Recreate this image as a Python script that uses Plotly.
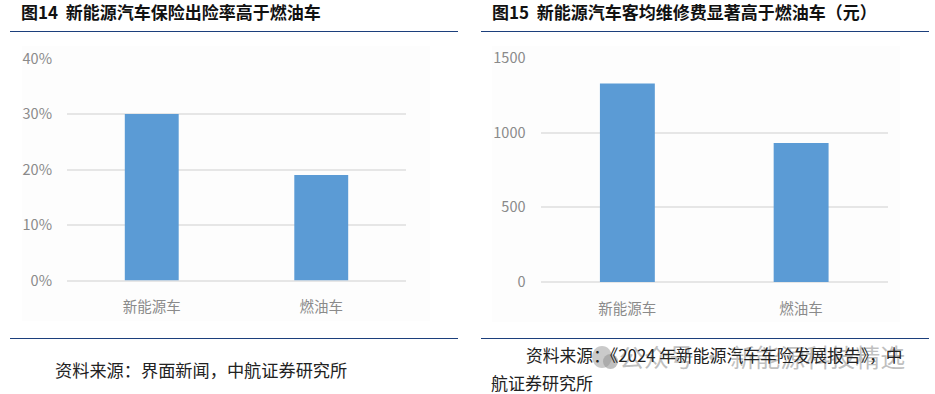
import plotly.graph_objects as go

W, H = 935, 394

categories = ["新能源车", "燃油车"]
loss_ratio = [30, 19]
repair_cost = [1330, 930]
ticks_left = [0, 10, 20, 30, 40]
ticks_left_labels = ["0%", "10%", "20%", "30%", "40%"]
ticks_right = [0, 500, 1000, 1500]
ticks_right_labels = ["0", "500", "1000", "1500"]

BAR = "#5b9bd5"
GRID = "#e6e6e6"
TICK = "#8a8a8a"
RULE = "#1c3f7c"
SANS = "'Noto Sans CJK SC', 'Noto Sans', sans-serif"


def fx(px):
    return px / W


def fy(py):
    return 1 - py / H


fig = go.Figure()
fig.add_trace(go.Bar(x=categories, y=loss_ratio, marker=dict(color=BAR, line=dict(width=0)),
                     width=0.318, xaxis="x", yaxis="y", showlegend=False))
fig.add_trace(go.Bar(x=categories, y=repair_cost, marker=dict(color=BAR, line=dict(width=0)),
                     width=0.316, xaxis="x2", yaxis="y2", showlegend=False))


def xaxis(x0, x1, anchor):
    return dict(domain=[fx(x0), fx(x1)], anchor=anchor, type="category", showgrid=False,
                showline=False, zeroline=False, ticks="", automargin=False,
                tickfont=dict(family=SANS, size=14.5, color=TICK), ticklabelstandoff=16)


def yaxis(y_top, y_bot, anchor, rng, vals, labels):
    return dict(domain=[fy(y_bot), fy(y_top)], anchor=anchor, range=rng, tickvals=vals,
                ticktext=labels, showgrid=True, gridcolor=GRID, gridwidth=1.5, zeroline=True,
                zerolinecolor=GRID, zerolinewidth=1.5, showline=False, ticks="", automargin=False,
                tickfont=dict(family=SANS, size=14.5, color=TICK), ticklabelstandoff=14)


annotations = []


def text(px, py, s, size, color="#222222", family=SANS, bold=False):
    annotations.append(dict(xref="paper", yref="paper", x=fx(px), y=fy(py), text=f"<b>{s}</b>" if bold else s,
                            showarrow=False, xanchor="left", yanchor="middle",
                            font=dict(family=family, size=size, color=color)))


text(19, 12, "图14  新能源汽车保险出险率高于燃油车", 17, "#111111", SANS, True)
text(490, 12, "图15  新能源汽车客均维修费显著高于燃油车（元）", 17, "#111111", SANS, True)
text(53, 369, "资料来源：界面新闻，中航证券研究所", 17.2)
text(617, 356, "公众号 · 新能源科技精选", 25, "rgba(150,150,150,0.6)")
text(524, 355, "资料来源：《2024 年新能源汽车车险发展报告》，中", 16.8)
text(489, 382, "航证券研究所", 17)

shapes = []
for x0, x1, y in [(10, 458, 31.5), (481, 929, 31.5), (10, 458, 338.5), (481, 929, 338.5)]:
    shapes.append(dict(type="line", xref="paper", yref="paper", x0=fx(x0), x1=fx(x1), y0=fy(y), y1=fy(y),
                       line=dict(color=RULE, width=1.2)))
for x0, x1, y0, y1 in [(22, 430, 46, 321), (492, 900, 46, 322)]:
    shapes.append(dict(type="rect", xref="paper", yref="paper", x0=fx(x0), x1=fx(x1), y0=fy(y0), y1=fy(y1),
                       fillcolor="#fdfdfd", line=dict(width=0), layer="below"))
# watermark icon
shapes.append(dict(type="circle", xref="paper", yref="paper", x0=fx(592), x1=fx(612), y0=fy(346), y1=fy(368),
                   fillcolor="rgba(150,150,150,0.5)", line=dict(width=0)))
shapes.append(dict(type="circle", xref="paper", yref="paper", x0=fx(603), x1=fx(618), y0=fy(354), y1=fy(369),
                   fillcolor="rgba(150,150,150,0.6)", line=dict(width=0)))

fig.update_layout(
    template="none",
    width=W, height=H, margin=dict(l=0, r=0, t=0, b=0, pad=0), autosize=False,
    paper_bgcolor="white", plot_bgcolor="rgba(0,0,0,0)", showlegend=False,
    xaxis=xaxis(67, 406, "y"),
    yaxis=yaxis(58.5, 280.5, "x", [0, 40], ticks_left, ticks_left_labels),
    xaxis2=xaxis(540.5, 888, "y2"),
    yaxis2=yaxis(58, 282, "x2", [0, 1500], ticks_right, ticks_right_labels),
    annotations=annotations, shapes=shapes,
)

fig.write_html("out.html", post_script="document.body.style.margin='0';",
               config=dict(displayModeBar=False))
